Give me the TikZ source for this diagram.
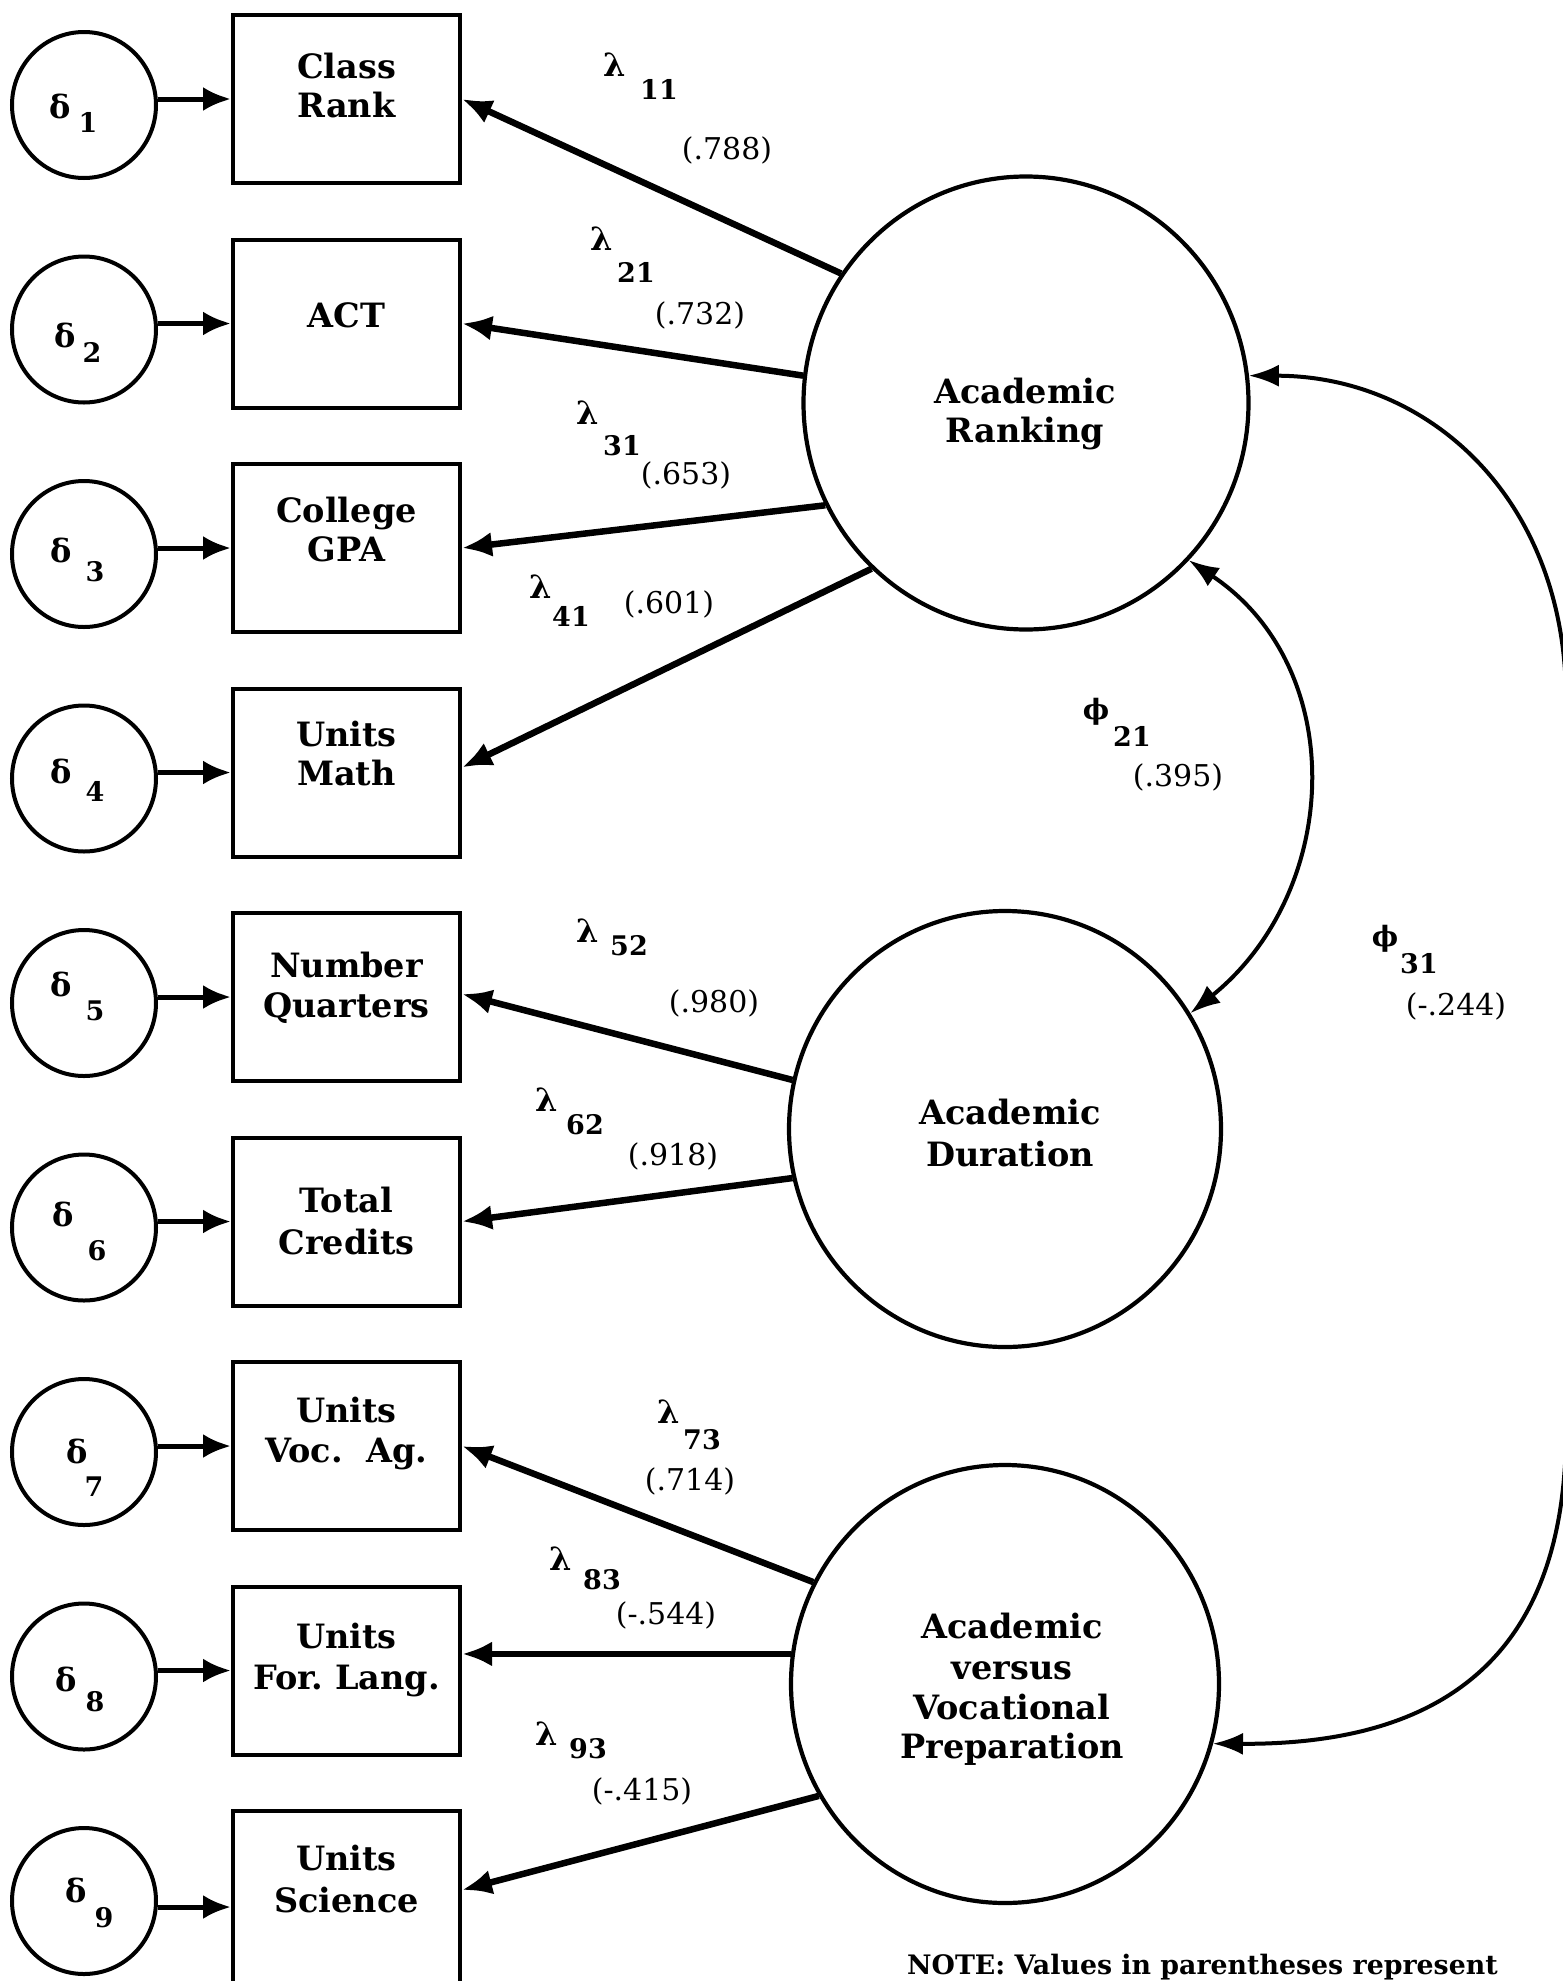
\documentclass[tikz,border=0pt]{standalone}
\usepackage{fontspec}
\setmainfont{DejaVu Serif}
\usetikzlibrary{shapes.geometric,arrows.meta}
\begin{document}
\begin{tikzpicture}[x=1pt,y=-1pt,
  obs/.style={draw, line width=4pt, minimum width=227pt, minimum height=168pt, inner sep=0pt, outer sep=2pt},
  err/.style={draw, ellipse, line width=4pt, minimum width=144pt, minimum height=146pt, inner sep=0pt, outer sep=2pt},
  lat/.style={draw, ellipse, line width=4.2pt, inner sep=0pt, outer sep=2pt},
  obstext/.style={anchor=base, inner sep=0pt, font=\fontsize{33.5}{39}\selectfont\bfseries},
  greek/.style={inner sep=0pt, font=\fontsize{32}{34}\selectfont\bfseries},
  subs/.style={inner sep=0pt, font=\fontsize{27}{30}\selectfont\bfseries},
  val/.style={inner sep=0pt, font=\fontsize{30}{32}\selectfont},
  errarrow/.style={line width=5pt, -{Latex[length=28pt,width=24pt]}},
  load/.style={line width=6.5pt, -{Latex[length=30pt,width=25pt]}},
  cov/.style={line width=4pt, {Latex[length=30pt,width=22pt]}-{Latex[length=30pt,width=22pt]}}
]
\useasboundingbox (0,0) rectangle (1563,1981);
\fill[white] (0,0) rectangle (1563,1981);

% observed variables
\node[obs] (b1) at (346.5,99) {};
\node[obs] (b2) at (346.5,323.5) {};
\node[obs] (b3) at (346.5,548) {};
\node[obs] (b4) at (346.5,772.5) {};
\node[obs] (b5) at (346.5,997) {};
\node[obs] (b6) at (346.5,1221.5) {};
\node[obs] (b7) at (346.5,1446) {};
\node[obs] (b8) at (346.5,1670.5) {};
\node[obs, minimum height=192pt] (b9) at (346.5,1907) {};

\node[obstext] (t1a) at (346.5,78) {Class};
\node[obstext] (t1b) at (346.5,117) {Rank};
\node[obstext] (t2a) at (346.5,327) {ACT};
\node[obstext] (t3a) at (346.5,522) {College};
\node[obstext] (t3b) at (346.5,561) {GPA};
\node[obstext] (t4a) at (346.5,746) {Units};
\node[obstext] (t4b) at (346.5,785) {Math};
\node[obstext] (t5a) at (346.5,977) {Number};
\node[obstext] (t5b) at (346.5,1017) {Quarters};
\node[obstext] (t6a) at (346.5,1212) {Total};
\node[obstext] (t6b) at (346.5,1254) {Credits};
\node[obstext] (t7a) at (346.5,1422) {Units};
\node[obstext] (t7b) at (346.5,1462) {Voc.\ \ Ag.};
\node[obstext] (t8a) at (346.5,1648) {Units};
\node[obstext] (t8b) at (346.5,1689) {For.\ Lang.};
\node[obstext] (t9a) at (346.5,1870) {Units};
\node[obstext] (t9b) at (346.5,1912) {Science};

% error terms
\node[err] (d1) at (84,105) {};
\node[err] (d2) at (84,329.5) {};
\node[err] (d3) at (84,554) {};
\node[err] (d4) at (84,778.5) {};
\node[err] (d5) at (84,1003) {};
\node[err] (d6) at (84,1227.5) {};
\node[err] (d7) at (84,1452) {};
\node[err] (d8) at (84,1676.5) {};
\node[err] (d9) at (84,1901) {};

\node[greek] (e1g) at (60,106) {δ};   \node[subs] (e1s) at (88,122) {1};
\node[greek] (e2g) at (65,335) {δ};   \node[subs] (e2s) at (92,352) {2};
\node[greek] (e3g) at (61,550) {δ};   \node[subs] (e3s) at (95,572) {3};
\node[greek] (e4g) at (61,771) {δ};   \node[subs] (e4s) at (95,791) {4};
\node[greek] (e5g) at (61,984) {δ};   \node[subs] (e5s) at (95,1011) {5};
\node[greek] (e6g) at (63,1214) {δ};  \node[subs] (e6s) at (97,1251) {6};
\node[greek] (e7g) at (77,1451) {δ};  \node[subs] (e7s) at (94,1487) {7};
\node[greek] (e8g) at (66,1679) {δ};  \node[subs] (e8s) at (95,1702) {8};
\node[greek] (e9g) at (76,1890) {δ};  \node[subs] (e9s) at (104,1918) {9};

\foreach \i in {1,...,9}{
  \draw[errarrow] (d\i.east |- b\i.west) -- (b\i.west);
}

% latent variables
\node[lat, minimum width=445pt, minimum height=453pt] (rank) at (1026,403) {};
\node[lat, minimum width=432pt, minimum height=436pt] (dur) at (1005,1129) {};
\node[lat, minimum width=428pt, minimum height=438pt] (voc) at (1005,1684) {};

\node[obstext] (r1) at (1025,403) {Academic};
\node[obstext] (r2) at (1025,442) {Ranking};
\node[obstext] (u1) at (1010,1124) {Academic};
\node[obstext] (u2) at (1010,1166) {Duration};
\node[obstext] (v1) at (1012,1638) {Academic};
\node[obstext] (v2) at (1012,1679) {versus};
\node[obstext] (v3) at (1012,1719) {Vocational};
\node[obstext] (v4) at (1012,1758) {Preparation};

% loadings
\draw[load] (rank.145.9) -- (b1.east);
\draw[load] (rank.173.3) -- (b2.east);
\draw[load] (rank.207.5) -- (b3.east);
\draw[load] (rank.227.1) -- ([yshift=5pt]b4.east);
\draw[load] (dur.167) -- ([yshift=3pt]b5.east);
\draw[load] (dur.193) -- (b6.east);
\draw[load] (voc.152.9) -- (b7.east);
\draw[load] (voc.172.8) -- (b8.east |- voc.172.8);
\draw[load] (voc.211.3) -- ([yshift=17pt]b9.east);

% loading labels
\node[greek] (l11g) at (615,65) {λ};   \node[subs] (l11s) at (659,89) {11};   \node[val] (l11v) at (727,150) {(.788)};
\node[greek] (l21g) at (602,239) {λ};  \node[subs] (l21s) at (636,272) {21};  \node[val] (l21v) at (700,315) {(.732)};
\node[greek] (l31g) at (588,413) {λ};  \node[subs] (l31s) at (622,446) {31};  \node[val] (l31v) at (686,475) {(.653)};
\node[greek] (l41g) at (541,587) {λ};  \node[subs] (l41s) at (571,616) {41};  \node[val] (l41v) at (669,604) {(.601)};
\node[greek] (l52g) at (588,931) {λ};  \node[subs] (l52s) at (629,946) {52};  \node[val] (l52v) at (714,1003) {(.980)};
\node[greek] (l62g) at (547,1100) {λ}; \node[subs] (l62s) at (585,1125) {62}; \node[val] (l62v) at (673,1156) {(.918)};
\node[greek] (l73g) at (669,1412) {λ}; \node[subs] (l73s) at (702,1440) {73}; \node[val] (l73v) at (690,1481) {(.714)};
\node[greek] (l83g) at (561,1559) {λ}; \node[subs] (l83s) at (602,1580) {83}; \node[val] (l83v) at (666,1615) {(-.544)};
\node[greek] (l93g) at (547,1734) {λ}; \node[subs] (l93s) at (588,1749) {93}; \node[val] (l93v) at (642,1791) {(-.415)};

% covariances
\draw[cov] (rank.316.6) .. controls +(161,108) and +(151,-122) .. (dur.32.8);
\coordinate (c31a) at (1566,700);
\coordinate (c31b) at (1566,1430);
\draw[cov] (rank.7) .. controls (1430,376) and (1566,500) .. (c31a) -- (c31b) .. controls (1566,1650) and (1450,1745) .. (voc.-16);

\node[greek, font=\fontsize{28}{30}\selectfont\bfseries] (p21g) at (1096,712) {ϕ};
\node[subs] (p21s) at (1132,736) {21};
\node[val] (p21v) at (1178,777) {(.395)};
\node[greek, font=\fontsize{28}{30}\selectfont\bfseries] (p31g) at (1385,939) {ϕ};
\node[subs] (p31s) at (1419,964) {31};
\node[val] (p31v) at (1456,1006) {(-.244)};

% note
\node[anchor=base west, inner sep=0pt, font=\fontsize{26.8}{29}\selectfont\bfseries] (note) at (907,1974) {NOTE: Values in parentheses represent};
\end{tikzpicture}
\end{document}
